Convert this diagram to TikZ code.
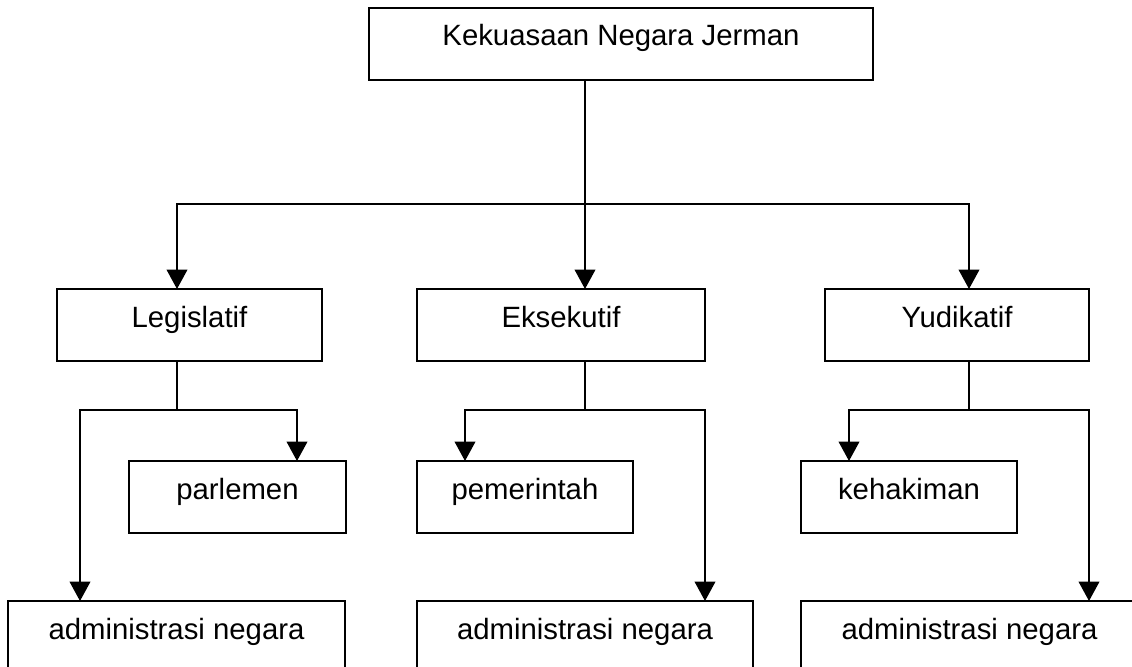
\documentclass[tikz,border=0pt]{standalone}
\usepackage{fontspec}
\setmainfont{Liberation Sans}
\usetikzlibrary{arrows.meta}
\tikzset{
  box/.style={draw, line width=1.1pt, inner sep=0pt, outer sep=0pt, anchor=north,
    minimum height=54pt, text height=28.5pt, text depth=25.5pt,
    font=\fontsize{22}{26}\selectfont},
  lowbox/.style={box, minimum height=60pt, text depth=31.5pt},
  ln/.style={line width=1.1pt},
  arr/.style={ln, -{Triangle[width=15.5pt,length=14.5pt]}}
}
\begin{document}
\begin{tikzpicture}[x=0.75pt, y=-0.75pt]
\useasboundingbox[fill=white] (0,0) rectangle (1132,667);
\clip (0,0) rectangle (1132,667);
% boxes
\node[box, minimum width=378pt] (top) at (621,8) {Kekuasaan Negara Jerman};
\node[box, minimum width=198.75pt] (leg) at (189.5,289) {Legislatif};
\node[box, minimum width=216pt] (eks) at (561,289) {Eksekutif};
\node[box, minimum width=198pt] (yud) at (957,289) {Yudikatif};
\node[box, minimum width=162.75pt] (parl) at (237.5,461) {parlemen};
\node[box, minimum width=162pt] (pem) at (525,461) {pemerintah};
\node[box, minimum width=162pt] (keh) at (909,461) {kehakiman};
\node[lowbox, minimum width=252.75pt] (adm1) at (176.5,601) {administrasi negara};
\node[lowbox, minimum width=252pt] (adm2) at (585,601) {administrasi negara};
\node[lowbox, minimum width=252.75pt] (adm3) at (969.5,601) {administrasi negara};
% junction coordinates
\coordinate (j0) at (585,204);
\coordinate (cL) at (177,204);
\coordinate (cR) at (969,204);
\coordinate (lj) at (177,410);
\coordinate (lA) at (80,410);
\coordinate (lB) at (297,410);
\coordinate (ej) at (585,410);
\coordinate (eA) at (465,410);
\coordinate (eB) at (705,410);
\coordinate (yj) at (969,410);
\coordinate (yA) at (849,410);
\coordinate (yB) at (1089,410);
% top level
\draw[ln] (top.south -| j0) -- (j0);
\draw[arr] (j0) -| (cL |- leg.north);
\draw[arr] (j0) -| (cR |- yud.north);
\draw[arr] (j0) -- (j0 |- eks.north);
% Legislatif
\draw[ln] (leg.south -| lj) -- (lj);
\draw[arr] (lj) -| (lA |- adm1.north);
\draw[arr] (lj) -| (lB |- parl.north);
% Eksekutif
\draw[ln] (eks.south -| ej) -- (ej);
\draw[arr] (ej) -| (eA |- pem.north);
\draw[arr] (ej) -| (eB |- adm2.north);
% Yudikatif
\draw[ln] (yud.south -| yj) -- (yj);
\draw[arr] (yj) -| (yA |- keh.north);
\draw[arr] (yj) -| (yB |- adm3.north);
\end{tikzpicture}
\end{document}
